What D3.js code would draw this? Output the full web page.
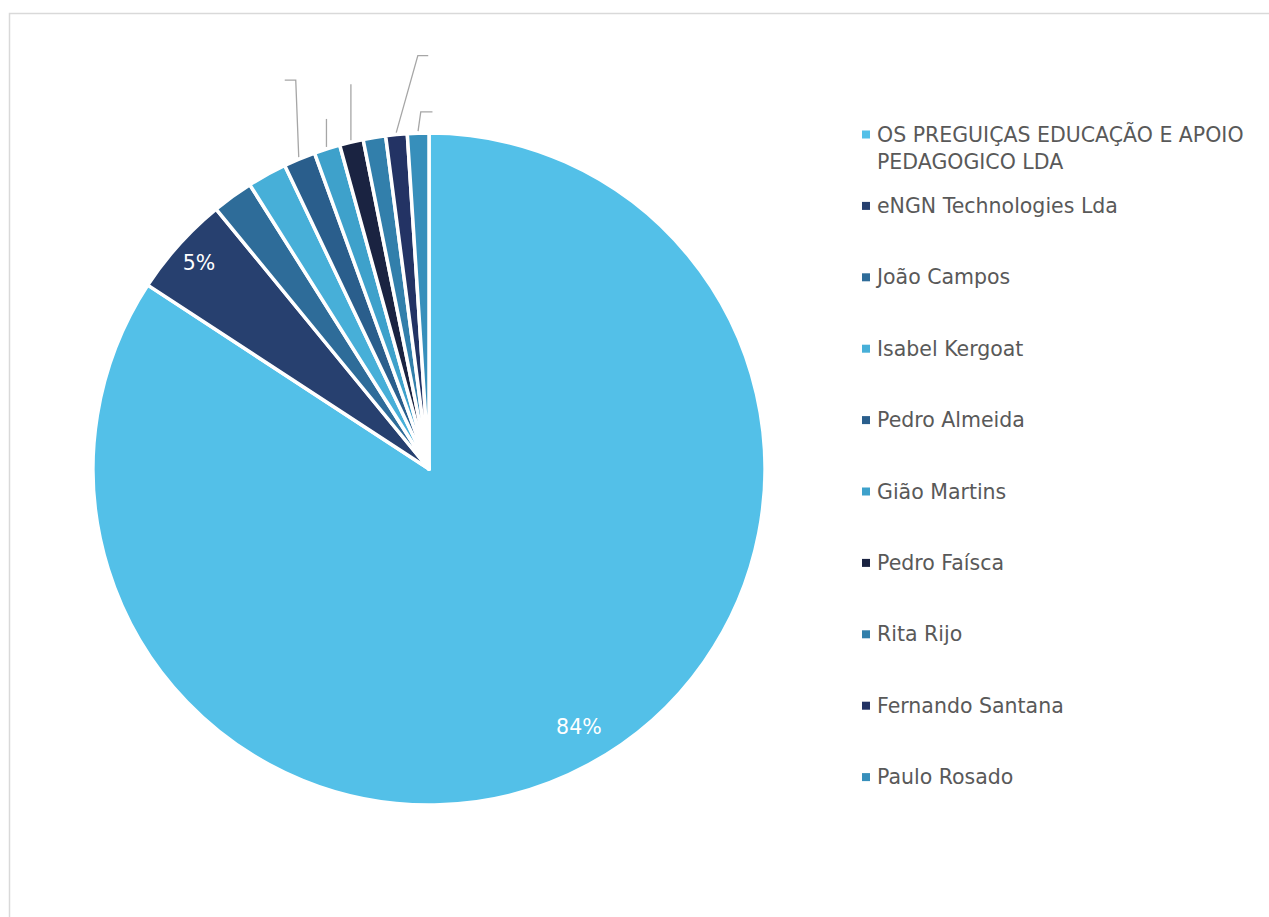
<!DOCTYPE html>
<html>
<head>
<meta charset="utf-8">
<script src="https://cdn.jsdelivr.net/npm/d3@7"></script>
<style>
  body { margin: 0; background: #fff; }
  svg { display: block; }
</style>
</head>
<body>
<div id="chart"></div>
<script>
// values (share of total, %)
const names = [
  "OS PREGUIÇAS EDUCAÇÃO E APOIO PEDAGOGICO LDA",
  "eNGN Technologies Lda",
  "João Campos",
  "Isabel Kergoat",
  "Pedro Almeida",
  "Gião Martins",
  "Pedro Faísca",
  "Rita Rijo",
  "Fernando Santana",
  "Paulo Rosado"
];
const shares = [84.2, 4.86, 1.97, 1.89, 1.53, 1.25, 1.14, 1.08, 1.03, 1.03];
const colors = [
  "#53c0e8", "#27406f", "#2e6c99", "#47afd8", "#2a5e8c",
  "#3ea1cb", "#1a2341", "#327fab", "#233364", "#378fbb"
];
const legendLines = [
  ["OS PREGUIÇAS EDUCAÇÃO E APOIO", "PEDAGOGICO LDA"],
  ["eNGN Technologies Lda"], ["João Campos"], ["Isabel Kergoat"],
  ["Pedro Almeida"], ["Gião Martins"], ["Pedro Faísca"], ["Rita Rijo"],
  ["Fernando Santana"], ["Paulo Rosado"]
];
// leader lines Excel left behind for the small slices (labels are empty)
const leaders = {
  "Pedro Almeida": [[-3, -77], [-11, 0]],
  "Gião Martins": [[0, -28]],
  "Pedro Faísca": [[0, -56]],
  "Fernando Santana": [[21.6, -77], [10.4, 0]],
  "Paulo Rosado": [[2.7, -19.3], [11.7, 0]]
};

const width = 1269, height = 917;
const cx = 429, cy = 469, radius = 336;

const data = names.map((n, i) => ({ name: n, value: shares[i], color: colors[i] }));

const svg = d3.select("#chart").append("svg")
  .attr("width", width)
  .attr("height", height);

// chart area border
svg.append("rect")
  .attr("x", 9.5).attr("y", 13.5)
  .attr("width", width + 10).attr("height", height + 10)
  .attr("fill", "none")
  .attr("stroke", "#d9d9d9")
  .attr("stroke-width", 1.5);

const pie = d3.pie().sort(null).value(d => d.value);
const arcs = pie(data);

const arc = d3.arc().innerRadius(0).outerRadius(radius);
const labelArc = d3.arc().innerRadius(radius * 0.9).outerRadius(radius * 0.9);

const g = svg.append("g").attr("transform", `translate(${cx},${cy})`);

g.selectAll("path.slice")
  .data(arcs)
  .join("path")
  .attr("class", "slice")
  .attr("d", arc)
  .attr("fill", d => d.data.color)
  .attr("stroke", "#fff")
  .attr("stroke-width", 3.5)
  .attr("stroke-linejoin", "round");

// percentage labels (only the big ones are shown)
g.selectAll("text.pct")
  .data(arcs.filter(d => d.data.value >= 4))
  .join("text")
  .attr("class", "pct")
  .attr("transform", d => {
    const [x, y] = labelArc.centroid(d);
    return `translate(${x + (d.index === 0 ? 6 : -5)},${y + (d.index === 0 ? -8 : -4)})`;
  })
  .attr("text-anchor", "middle")
  .attr("dy", "0.35em")
  .attr("fill", "#fff")
  .attr("font-family", "DejaVu Sans, Verdana, sans-serif")
  .attr("font-size", 20.5)
  .text(d => Math.round(d.data.value) + "%");

// leader lines
g.selectAll("path.leader")
  .data(arcs.filter(d => leaders[d.data.name]))
  .join("path")
  .attr("class", "leader")
  .attr("fill", "none")
  .attr("stroke", "#a6a6a6")
  .attr("stroke-width", 1.3)
  .attr("d", d => {
    const a = (d.startAngle + d.endAngle) / 2;
    let x = Math.sin(a) * (radius + 2), y = -Math.cos(a) * (radius + 2);
    const pts = [[x, y]];
    leaders[d.data.name].forEach(([dx, dy]) => { x += dx; y += dy; pts.push([x, y]); });
    return d3.line()(pts);
  });

// legend
const legendX = 862, legendY0 = 134.5, legendStep = 71.4, lineH = 27;
const legend = svg.append("g").attr("font-family", "DejaVu Sans, Verdana, sans-serif");
const items = legend.selectAll("g.item")
  .data(data)
  .join("g")
  .attr("class", "item")
  .attr("transform", (d, i) => `translate(${legendX},${legendY0 + i * legendStep})`);

items.append("rect")
  .attr("x", 0).attr("y", -4)
  .attr("width", 8).attr("height", 8)
  .attr("fill", d => d.color);

items.append("text")
  .attr("fill", "#595959")
  .attr("font-size", 20.5)
  .selectAll("tspan")
  .data((d, i) => legendLines[i])
  .join("tspan")
  .attr("x", 15)
  .attr("y", (d, j) => j * lineH)
  .attr("dy", "0.35em")
  .text(d => d);
</script>
</body>
</html>
